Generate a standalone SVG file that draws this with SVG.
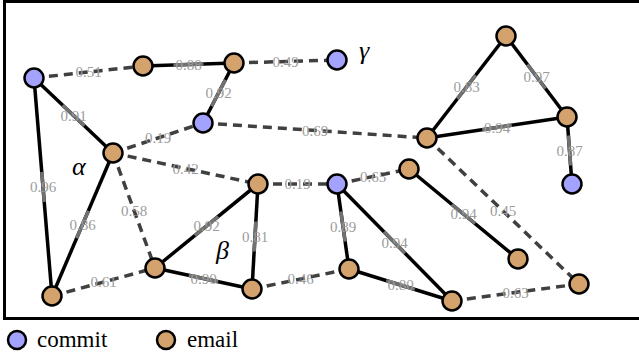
<svg xmlns="http://www.w3.org/2000/svg" width="639" height="360" viewBox="0 0 639 360">
<style>
.frame{fill:none;stroke:#000;stroke-width:3}
.s{stroke:#000;stroke-width:3.5;fill:none}
.g{stroke:#717171;stroke-width:3.5;fill:none}
.d{stroke:#404040;stroke-width:3.5;stroke-dasharray:9 6;fill:none}
.lb{font-family:"Liberation Serif",serif;font-size:15px;fill:#9c9c9c;text-anchor:middle;dominant-baseline:central}
.c{fill:#a3a3ff;stroke:#000;stroke-width:2.5}
.e{fill:#d4a26c;stroke:#000;stroke-width:2.5}
.gr{font-family:"Liberation Serif",serif;font-style:italic;font-size:26px;fill:#000}
.lg{font-family:"Liberation Serif",serif;font-size:23px;fill:#000}
</style>
<rect class="frame" x="4.5" y="1.5" width="640" height="317"/>
<g id="connectors">
<line class="d" x1="34" y1="78" x2="143" y2="66"/>
<line class="d" x1="234" y1="63" x2="337" y2="60"/>
<line class="d" x1="113" y1="153" x2="203" y2="123"/>
<line class="d" x1="203" y1="123" x2="427" y2="138"/>
<line class="d" x1="113" y1="153" x2="258" y2="184"/>
<line class="d" x1="113" y1="153" x2="155" y2="268"/>
<line class="d" x1="258" y1="184" x2="337" y2="184"/>
<line class="d" x1="337" y1="184" x2="409" y2="169"/>
<line class="d" x1="427" y1="138" x2="579" y2="284"/>
<line class="d" x1="52" y1="296" x2="155" y2="268"/>
<line class="d" x1="252" y1="289" x2="349" y2="269"/>
<line class="d" x1="452" y1="301" x2="579" y2="284"/>
<line class="s" x1="143" y1="66" x2="234" y2="63"/>
<line class="s" x1="234" y1="63" x2="203" y2="123"/>
<line class="s" x1="34" y1="78" x2="113" y2="153"/>
<line class="s" x1="34" y1="78" x2="52" y2="296"/>
<line class="s" x1="113" y1="153" x2="52" y2="296"/>
<line class="s" x1="427" y1="138" x2="506" y2="36"/>
<line class="s" x1="506" y1="36" x2="567" y2="117"/>
<line class="s" x1="427" y1="138" x2="567" y2="117"/>
<line class="s" x1="567" y1="117" x2="572" y2="184"/>
<line class="s" x1="155" y1="268" x2="258" y2="184"/>
<line class="s" x1="258" y1="184" x2="252" y2="289"/>
<line class="s" x1="155" y1="268" x2="252" y2="289"/>
<line class="s" x1="337" y1="184" x2="349" y2="269"/>
<line class="s" x1="337" y1="184" x2="452" y2="301"/>
<line class="s" x1="349" y1="269" x2="452" y2="301"/>
<line class="s" x1="409" y1="169" x2="518" y2="259"/>
<line class="g" x1="173.5" y1="65" x2="203.5" y2="64"/>
<line class="g" x1="225.4" y1="79.7" x2="211.6" y2="106.3"/>
<line class="g" x1="62.6" y1="105.2" x2="84.4" y2="125.8"/>
<line class="g" x1="41.8" y1="172" x2="44.2" y2="202"/>
<line class="g" x1="88.4" y1="210.7" x2="76.6" y2="238.3"/>
<line class="g" x1="457.3" y1="98.9" x2="475.7" y2="75.1"/>
<line class="g" x1="527.5" y1="64.5" x2="545.5" y2="88.5"/>
<line class="g" x1="482.2" y1="129.7" x2="511.8" y2="125.3"/>
<line class="g" x1="568.4" y1="135.5" x2="570.6" y2="165.5"/>
<line class="g" x1="194.9" y1="235.5" x2="218.1" y2="216.5"/>
<line class="g" x1="255.9" y1="221.5" x2="254.1" y2="251.5"/>
<line class="g" x1="188.8" y1="275.3" x2="218.2" y2="281.7"/>
<line class="g" x1="340.9" y1="211.6" x2="345.1" y2="241.4"/>
<line class="g" x1="384" y1="231.8" x2="405" y2="253.2"/>
<line class="g" x1="386.2" y1="280.6" x2="414.8" y2="289.4"/>
<line class="g" x1="451.9" y1="204.5" x2="475.1" y2="223.5"/>
<text class="lb" x="88.5" y="72">0.51</text>
<text class="lb" x="285.5" y="61.5">0.49</text>
<text class="lb" x="158" y="138">0.19</text>
<text class="lb" x="315" y="130.5">0.69</text>
<text class="lb" x="185.5" y="168.5">0.42</text>
<text class="lb" x="134" y="210.5">0.58</text>
<text class="lb" x="297.5" y="184">0.19</text>
<text class="lb" x="373" y="176.5">0.65</text>
<text class="lb" x="503" y="211">0.45</text>
<text class="lb" x="103.5" y="282">0.61</text>
<text class="lb" x="300.5" y="279">0.46</text>
<text class="lb" x="515.5" y="292.5">0.63</text>
<text class="lb" x="188.5" y="64.5">0.88</text>
<text class="lb" x="218.5" y="93">0.92</text>
<text class="lb" x="73.5" y="115.5">0.91</text>
<text class="lb" x="43" y="187">0.96</text>
<text class="lb" x="82.5" y="224.5">0.86</text>
<text class="lb" x="466.5" y="87">0.83</text>
<text class="lb" x="536.5" y="76.5">0.97</text>
<text class="lb" x="497" y="127.5">0.94</text>
<text class="lb" x="569.5" y="150.5">0.87</text>
<text class="lb" x="206.5" y="226">0.92</text>
<text class="lb" x="255" y="236.5">0.81</text>
<text class="lb" x="203.5" y="278.5">0.90</text>
<text class="lb" x="343" y="226.5">0.89</text>
<text class="lb" x="394.5" y="242.5">0.94</text>
<text class="lb" x="400.5" y="285">0.80</text>
<text class="lb" x="463.5" y="214">0.94</text>
</g>
<g id="nA"><circle class="c" cx="34" cy="78" r="9.5"/></g>
<g id="nB"><circle class="e" cx="143" cy="66" r="9.5"/></g>
<g id="nC"><circle class="e" cx="234" cy="63" r="9.5"/></g>
<g id="nGamma"><circle class="c" cx="337" cy="60" r="9.5"/></g>
<g id="nD"><circle class="c" cx="203" cy="123" r="9.5"/></g>
<g id="nAlpha"><circle class="e" cx="113" cy="153" r="9.5"/></g>
<g id="nE"><circle class="e" cx="427" cy="138" r="9.5"/></g>
<g id="nF"><circle class="e" cx="506" cy="36" r="9.5"/></g>
<g id="nG"><circle class="e" cx="567" cy="117" r="9.5"/></g>
<g id="nH"><circle class="c" cx="572" cy="184" r="9.5"/></g>
<g id="nI"><circle class="e" cx="258" cy="184" r="9.5"/></g>
<g id="nJ"><circle class="c" cx="337" cy="184" r="9.5"/></g>
<g id="nK"><circle class="e" cx="409" cy="169" r="9.5"/></g>
<g id="nL"><circle class="e" cx="155" cy="268" r="9.5"/></g>
<g id="nM"><circle class="e" cx="52" cy="296" r="9.5"/></g>
<g id="nN"><circle class="e" cx="252" cy="289" r="9.5"/></g>
<g id="nO"><circle class="e" cx="349" cy="269" r="9.5"/></g>
<g id="nP"><circle class="e" cx="452" cy="301" r="9.5"/></g>
<g id="nQ"><circle class="e" cx="518" cy="259" r="9.5"/></g>
<g id="nR"><circle class="e" cx="579" cy="284" r="9.5"/></g>
<text class="gr" x="72" y="175">α</text>
<text class="gr" x="216" y="259">β</text>
<text class="gr" x="359" y="59">γ</text>
<g id="legend">
<circle class="c" cx="17" cy="340" r="9"/>
<text class="lg" x="37" y="347">commit</text>
<circle class="e" cx="166" cy="340" r="9"/>
<text class="lg" x="187" y="347">email</text>
</g>
</svg>
